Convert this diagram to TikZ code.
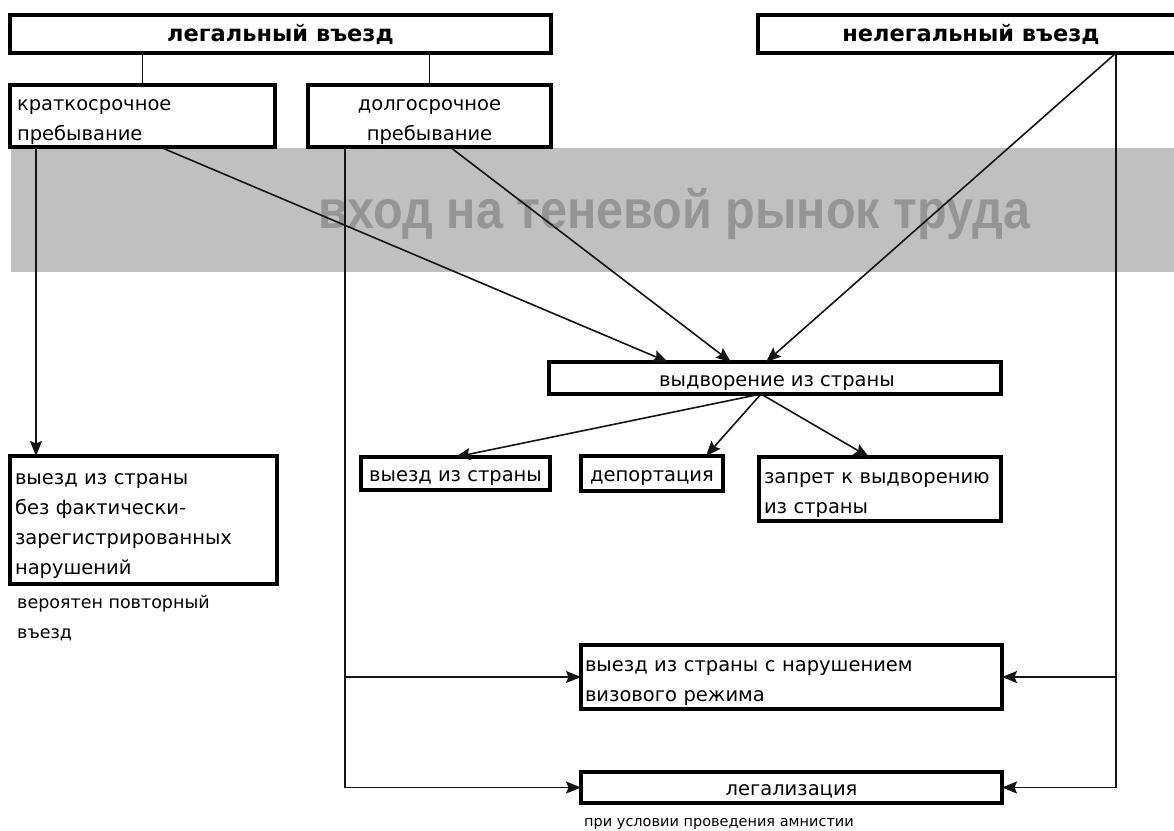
\documentclass[tikz,border=0pt]{standalone}
\usepackage{fontspec}
\setmainfont{DejaVu Sans}
\newfontfamily\bandfont{Liberation Sans}
\usetikzlibrary{arrows.meta}
\definecolor{band}{HTML}{C0C0C0}
\definecolor{bandtext}{HTML}{959595}
\definecolor{linec}{HTML}{151515}
\newcommand\tpad{\rule{0pt}{23pt}}
\begin{document}
\begin{tikzpicture}[x=1pt,y=-1pt,
  box/.style={draw=black, fill=white, line width=3.2pt, inner sep=0pt, outer sep=0pt, font=\fontsize{19.5}{30}\selectfont},
  one/.style={box, text height=21pt, text depth=4.4pt},
  titlebox/.style={box, font=\fontsize{22.5}{27}\selectfont\bfseries, text height=21pt, text depth=5.3pt},
  conn/.style={draw=linec, line width=1.6pt},
  arr/.style={conn, -{Stealth[length=15pt,width=12pt,inset=2.5pt]}},
  note/.style={inner sep=0pt, anchor=west, align=left},
]
\useasboundingbox (0,0) rectangle (1174,830);
\fill[band] (11,148) rectangle (1180,272);
\node[font=\bandfont\fontsize{54}{54}\selectfont\bfseries, text=bandtext, inner sep=0pt, anchor=base] (bandtxt) at (674,228) {\resizebox{712pt}{\height}{вход на теневой рынок труда}};

\node[titlebox, minimum width=541pt, minimum height=38pt] (legal) at (280.5,34) {легальный въезд};
\node[titlebox, minimum width=418pt, minimum height=38pt] (illegal) at (967,34) {\hspace*{8pt}нелегальный въезд};

\node[box, minimum width=265pt, minimum height=62pt, text width=251pt, align=left] (krat) at (142.5,116) {\tpad краткосрочное\\пребывание};
\node[box, minimum width=243pt, minimum height=62pt, align=center] (dolg) at (429.5,116) {\tpad долгосрочное\\пребывание};
\node[one, minimum width=452pt, minimum height=32pt] (vyd) at (775,378) {\hspace*{4pt}выдворение из страны};
\node[one, minimum width=189pt, minimum height=33pt] (exit) at (455.5,473.5) {выезд из страны};
\node[one, minimum width=142pt, minimum height=35pt] (dep) at (652,473.5) {депортация};
\node[box, minimum width=242pt, minimum height=64pt, text width=232pt, align=left] (ban) at (880,489) {\tpad запрет к выдворению\\из страны};
\node[box, minimum width=267pt, minimum height=128pt, text width=257pt, align=left] (noreg) at (143.5,520) {\tpad выезд из страны\\без фактически-\\зарегистрированных\\нарушений};
\node[box, minimum width=421pt, minimum height=64pt, text width=413pt, align=left] (visa) at (791.5,677) {\tpad выезд из страны с нарушением\\визового режима};
\node[one, minimum width=421pt, minimum height=31pt] (legz) at (791.5,787.5) {легализация};

\node[note, font=\fontsize{17.5}{30}\selectfont] (n1) at (17,618) {вероятен повторный\\въезд};
\node[note, font=\fontsize{14.5}{17}\selectfont] (n2) at (584,824) {при условии проведения амнистии};

\draw[conn] (legal.south -| krat.north) -- (krat.north);
\draw[conn] (legal.south -| dolg.north) -- (dolg.north);
\draw[arr] ([xshift=-106.5pt]krat.south) -- ([xshift=-107.5pt]noreg.north);
\draw[arr] ([xshift=17.5pt]krat.south) -- ([xshift=-107pt]vyd.north);
\draw[arr] ([xshift=20.5pt]dolg.south) -- ([xshift=-44pt]vyd.north);
\draw[arr] ([xshift=149pt]illegal.south) -- ([xshift=-9pt]vyd.north);
\draw[arr] ([xshift=-14pt]vyd.south) -- (exit.north);
\draw[arr] ([xshift=-14pt]vyd.south) -- ([xshift=54pt]dep.north);
\draw[arr] ([xshift=-14pt]vyd.south) -- ([xshift=-11pt]ban.north);

\coordinate (lv) at ([xshift=-84.5pt]dolg.south);
\draw[arr] (lv) |- (legz.west);
\draw[arr] (lv |- visa.west) -- (visa.west);
\coordinate (rv) at ([xshift=149pt]illegal.south);
\draw[arr] (rv) |- (legz.east);
\draw[arr] (rv |- visa.east) -- (visa.east);
\end{tikzpicture}
\end{document}
